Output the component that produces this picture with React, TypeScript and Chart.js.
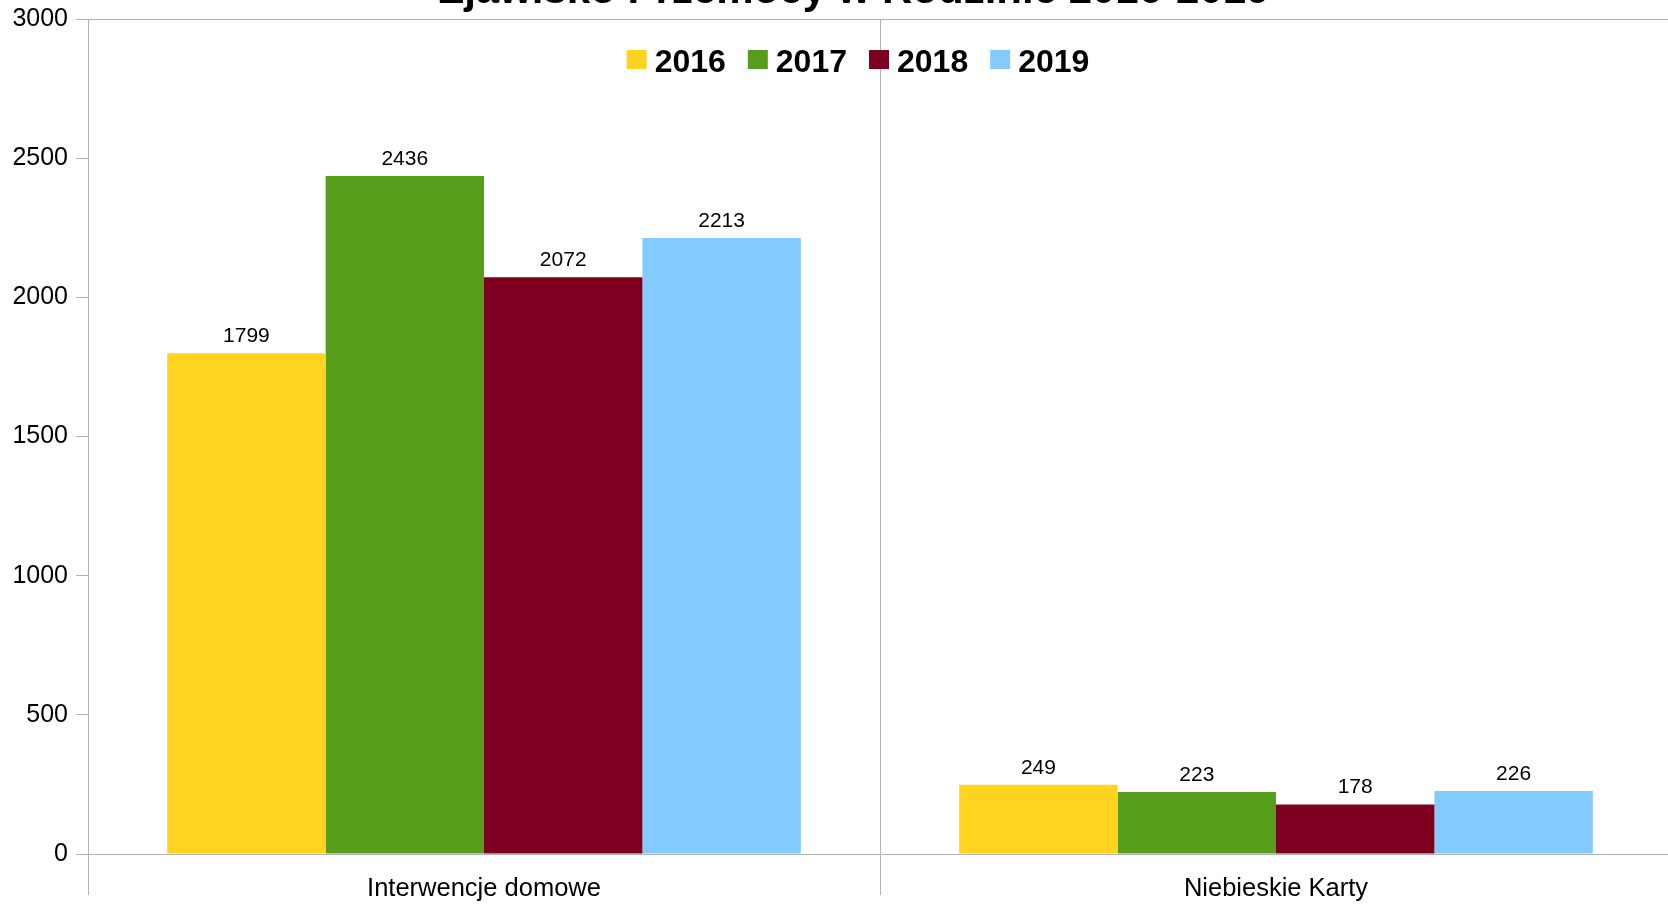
import React, { useEffect, useRef } from 'react';
import { Chart, registerables } from 'chart.js';

Chart.register(...registerables);

const TITLE = 'Zjawisko Przemocy w Rodzinie 2016-2019';
const categories = ['Interwencje domowe', 'Niebieskie Karty'];
const years = ['2016', '2017', '2018', '2019'];
const values2016 = [1799, 249];
const values2017 = [2436, 223];
const values2018 = [2072, 178];
const values2019 = [2213, 226];
const seriesColors = ['#FFD320', '#579D1C', '#7E0021', '#83CAFF'];
const yMin = 0;
const yMax = 3000;
const yStep = 500;

const FONT = "'Liberation Sans', Arial, sans-serif";
const GRID = '#b3b3b3';

const overlayPlugin = {
  id: 'overlay',
  afterDatasetsDraw(chart: any) {
    const ctx = chart.ctx as CanvasRenderingContext2D;
    ctx.save();
    // value labels
    ctx.font = `21px ${FONT}`;
    ctx.fillStyle = '#000';
    ctx.textAlign = 'center';
    ctx.textBaseline = 'alphabetic';
    chart.data.datasets.forEach((ds: any, i: number) => {
      const meta = chart.getDatasetMeta(i);
      meta.data.forEach((bar: any, j: number) => {
        ctx.fillText(String(ds.data[j]), bar.x, bar.y - 11);
      });
    });
    // title (clipped at top like the reference)
    ctx.font = `bold 42px ${FONT}`;
    ctx.fillText(TITLE, 854, 3);
    // legend
    ctx.font = `bold 32px ${FONT}`;
    ctx.textAlign = 'left';
    const items = chart.data.datasets.map((ds: any) => ({
      label: ds.label,
      color: ds.backgroundColor,
      w: ctx.measureText(ds.label).width,
    }));
    const box = 20;
    const gap = 8;
    const between = 22;
    const total =
      items.reduce((s: number, it: any) => s + box + gap + it.w, 0) + between * (items.length - 1);
    let x = 858 - total / 2;
    items.forEach((it: any) => {
      ctx.fillStyle = it.color;
      ctx.fillRect(x, 50, box, 19);
      ctx.fillStyle = '#000';
      ctx.fillText(it.label, x + box + gap, 72);
      x += box + gap + it.w + between;
    });
    ctx.restore();
  },
};

export default function App() {
  const ref = useRef<HTMLCanvasElement | null>(null);
  useEffect(() => {
    if (!ref.current) return;
    Chart.defaults.font.family = FONT;
    const seriesValues = [values2016, values2017, values2018, values2019];
    const chart = new Chart(ref.current, {
      type: 'bar',
      data: {
        labels: categories,
        datasets: years.map((y, i) => ({
          label: y,
          data: seriesValues[i],
          backgroundColor: seriesColors[i],
          borderWidth: 0,
          categoryPercentage: 0.8,
          barPercentage: 1.0,
        })),
      },
      options: {
        responsive: false,
        animation: false,
        devicePixelRatio: 1,
        layout: { padding: { top: 19, left: 0, right: 0, bottom: 0 } },
        plugins: {
          legend: { display: false },
          title: { display: false },
          tooltip: { enabled: false },
        },
        scales: {
          x: {
            grid: { color: GRID, tickColor: GRID, tickLength: 41, offset: true, lineWidth: 1 },
            border: { color: GRID },
            ticks: { color: '#000', font: { family: FONT, size: 25.5 }, padding: -21 },
            afterFit: (s: any) => {
              s.height = 50;
              s.paddingLeft = 0;
              s.paddingRight = 0;
            },
          },
          y: {
            min: yMin,
            max: yMax,
            ticks: {
              stepSize: yStep,
              color: '#000',
              font: { family: FONT, size: 25 },
              padding: 8,
              callback: (v: any) => String(v),
            },
            grid: {
              color: (c: any) => (c.tick && c.tick.value === yMax ? GRID : 'rgba(0,0,0,0)'),
              tickColor: GRID,
              tickLength: 12,
            },
            border: { color: GRID },
            afterFit: (s: any) => {
              s.width = 88;
              s.paddingTop = 0;
              s.paddingBottom = 0;
            },
          },
        },
      },
      plugins: [overlayPlugin],
    });
    return () => chart.destroy();
  }, []);
  return (
    <div
      style={{
        position: 'fixed',
        left: 0,
        top: 0,
        width: 1668,
        height: 904,
        overflow: 'hidden',
        background: '#fff',
      }}
    >
      <canvas ref={ref} width={1672} height={904} style={{ display: 'block', width: 1672, height: 904 }} />
    </div>
  );
}
